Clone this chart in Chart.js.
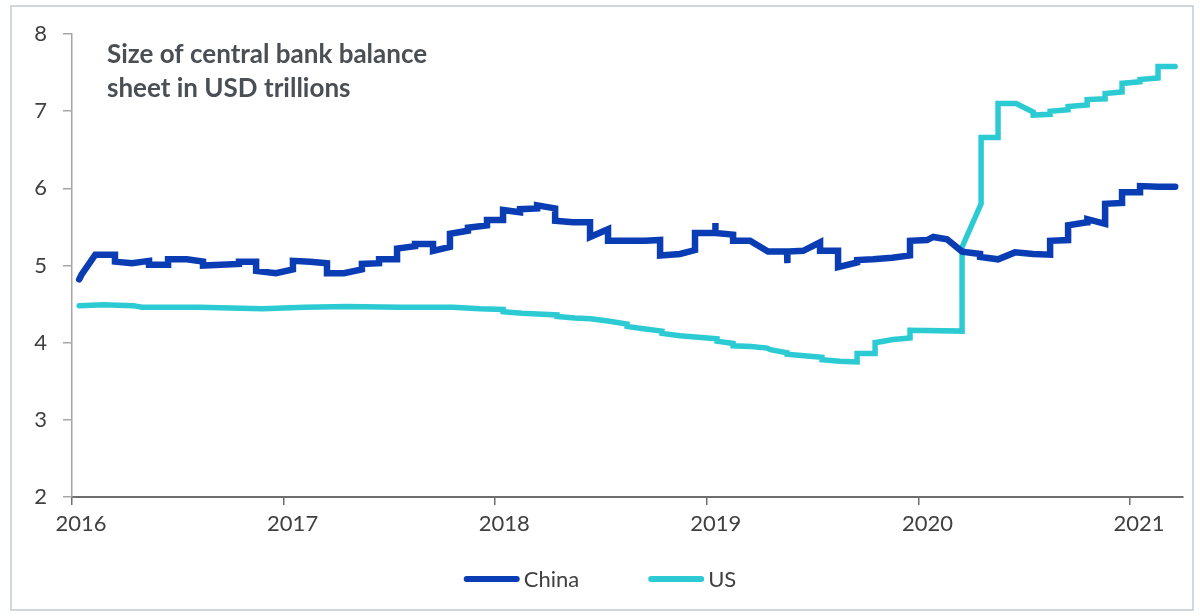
<!DOCTYPE html>
<html>
<head>
<meta charset="utf-8">
<script src="https://cdn.jsdelivr.net/npm/chart.js@4"></script>
<style>
  html, body { margin: 0; padding: 0; background: #ffffff; }
  #wrap { width: 1200px; height: 616px; position: relative; }
</style>
</head>
<body>
<div id="wrap"><canvas id="c" width="1200" height="616"></canvas></div>
<script>
// ---- Data (decimal years / USD trillions) ----
const seriesNames = ['China', 'US'];
const titleLines = ['Size of central bank balance', 'sheet in USD trillions'];
const yearTicks = [2016, 2017, 2018, 2019, 2020, 2021];

const chinaX = [2016.034, 2016.045, 2016.110, 2016.203, 2016.203, 2016.284, 2016.364, 2016.364, 2016.454, 2016.454,
  2016.543, 2016.619, 2016.619, 2016.789, 2016.789, 2016.870, 2016.870, 2016.964, 2017.044, 2017.044,
  2017.125, 2017.205, 2017.205, 2017.285, 2017.370, 2017.370, 2017.451, 2017.451, 2017.536, 2017.536,
  2017.621, 2017.621, 2017.706, 2017.706, 2017.786, 2017.786, 2017.871, 2017.871, 2017.961, 2017.961,
  2018.037, 2018.037, 2018.117, 2018.117, 2018.198, 2018.198, 2018.283, 2018.283, 2018.368, 2018.448,
  2018.448, 2018.533, 2018.533, 2018.708, 2018.779, 2018.779, 2018.873, 2018.944, 2018.944, 2019.039,
  2019.040, 2019.041, 2019.124, 2019.124, 2019.204, 2019.289, 2019.379, 2019.380, 2019.381, 2019.455,
  2019.535, 2019.535, 2019.620, 2019.620, 2019.710, 2019.710, 2019.785, 2019.875, 2019.960, 2019.960,
  2020.041, 2020.070, 2020.135, 2020.206, 2020.291, 2020.291, 2020.376, 2020.456, 2020.542, 2020.622,
  2020.622, 2020.707, 2020.707, 2020.797, 2020.798, 2020.882, 2020.882, 2020.962, 2020.962, 2021.047,
  2021.047, 2021.132, 2021.213];
const chinaY = [4.82, 4.88, 5.14, 5.14, 5.05, 5.03, 5.06, 5.01, 5.01, 5.08,
  5.08, 5.05, 5.00, 5.02, 5.05, 5.05, 4.93, 4.90, 4.95, 5.06,
  5.05, 5.03, 4.90, 4.90, 4.95, 5.02, 5.03, 5.08, 5.08, 5.22,
  5.25, 5.28, 5.28, 5.19, 5.24, 5.41, 5.45, 5.49, 5.52, 5.59,
  5.59, 5.72, 5.69, 5.73, 5.74, 5.78, 5.74, 5.58, 5.56, 5.56,
  5.37, 5.47, 5.32, 5.32, 5.33, 5.13, 5.15, 5.20, 5.42, 5.42,
  5.55, 5.42, 5.40, 5.32, 5.32, 5.18, 5.18, 5.03, 5.18, 5.19,
  5.30, 5.19, 5.19, 4.98, 5.04, 5.07, 5.08, 5.10, 5.13, 5.32,
  5.33, 5.37, 5.34, 5.18, 5.15, 5.11, 5.08, 5.17, 5.15, 5.14,
  5.32, 5.33, 5.52, 5.56, 5.60, 5.54, 5.80, 5.81, 5.95, 5.95,
  6.03, 6.02, 6.02];

const usX = [2016.034, 2016.150, 2016.290, 2016.330, 2016.600, 2016.900, 2017.100, 2017.300, 2017.550, 2017.800,
  2017.928, 2018.037, 2018.037, 2018.127, 2018.200, 2018.292, 2018.292, 2018.377, 2018.450, 2018.533,
  2018.623, 2018.623, 2018.700, 2018.788, 2018.788, 2018.873, 2018.960, 2019.048, 2019.048, 2019.124,
  2019.124, 2019.210, 2019.285, 2019.300, 2019.379, 2019.379, 2019.460, 2019.544, 2019.544, 2019.629,
  2019.710, 2019.710, 2019.795, 2019.795, 2019.880, 2019.960, 2019.960, 2020.206, 2020.206, 2020.296,
  2020.296, 2020.376, 2020.376, 2020.461, 2020.542, 2020.542, 2020.622, 2020.622, 2020.707, 2020.707,
  2020.797, 2020.797, 2020.882, 2020.882, 2020.962, 2020.962, 2021.047, 2021.047, 2021.132, 2021.132,
  2021.213];
const usY = [4.48, 4.49, 4.48, 4.46, 4.46, 4.44, 4.46, 4.47, 4.46, 4.46,
  4.44, 4.43, 4.40, 4.38, 4.37, 4.36, 4.34, 4.32, 4.31, 4.28,
  4.24, 4.21, 4.18, 4.15, 4.12, 4.09, 4.07, 4.05, 4.02, 3.99,
  3.96, 3.95, 3.93, 3.91, 3.87, 3.85, 3.83, 3.81, 3.78, 3.76,
  3.75, 3.86, 3.86, 4.00, 4.04, 4.06, 4.16, 4.15, 5.24, 5.80,
  6.66, 6.66, 7.10, 7.10, 6.99, 6.95, 6.96, 7.00, 7.02, 7.06,
  7.08, 7.15, 7.16, 7.23, 7.25, 7.36, 7.38, 7.41, 7.43, 7.58,
  7.58];

const colors = ['#0a3db4', '#2ccbd4'];
const FONT = 'Lato, "Open Sans", sans-serif';

const toPoints = (xs, ys) => xs.map((x, i) => ({ x: x, y: ys[i] }));

const framePlugin = {
  id: 'frame',
  beforeDraw(chart) {
    const ctx = chart.ctx;
    ctx.save();
    ctx.fillStyle = '#ffffff';
    ctx.fillRect(0, 0, chart.width, chart.height);
    ctx.strokeStyle = '#c3cad2';
    ctx.lineWidth = 1.5;
    ctx.strokeRect(11, 6, 1182, 604);
    ctx.restore();
  },
  afterDraw(chart) {
    const ctx = chart.ctx;
    ctx.save();
    // title inside the plot
    ctx.fillStyle = '#4a4f55';
    ctx.font = 'bold 26px ' + FONT;
    ctx.textBaseline = 'alphabetic';
    ctx.textAlign = 'left';
    titleLines.forEach((t, i) => ctx.fillText(t, 107, 63 + i * 34));
    // legend
    ctx.font = '22px ' + FONT;
    ctx.textBaseline = 'middle';
    const sw = 56, gapText = 4, gapItem = 69;
    const items = chart.data.datasets.map(d => ({ label: d.label, color: d.borderColor, w: ctx.measureText(d.label).width }));
    let total = 0;
    items.forEach((it, i) => { total += sw + gapText + it.w + (i < items.length - 1 ? gapItem : 0); });
    let x = 600 - total / 2;
    const y = 579;
    items.forEach(it => {
      ctx.strokeStyle = it.color;
      ctx.lineWidth = 6;
      ctx.lineCap = 'round';
      ctx.beginPath();
      ctx.moveTo(x + 3, y);
      ctx.lineTo(x + sw - 3, y);
      ctx.stroke();
      ctx.fillStyle = '#404040';
      ctx.fillText(it.label, x + sw + gapText, y + 1);
      x += sw + gapText + it.w + gapItem;
    });
    ctx.restore();
  }
};

new Chart(document.getElementById('c'), {
  type: 'line',
  data: {
    datasets: [
      { label: seriesNames[0], data: toPoints(chinaX, chinaY), borderColor: colors[0], backgroundColor: colors[0], borderWidth: 6.5 },
      { label: seriesNames[1], data: toPoints(usX, usY), borderColor: colors[1], backgroundColor: colors[1], borderWidth: 5.5 }
    ]
  },
  options: {
    responsive: false,
    animation: false,
    devicePixelRatio: 1,
    layout: { padding: { left: 0, right: 17, top: 34, bottom: 69 } },
    elements: { point: { radius: 0 }, line: { tension: 0, borderJoinStyle: 'miter', borderCapStyle: 'round' } },
    plugins: { legend: { display: false }, title: { display: false }, tooltip: { enabled: false } },
    scales: {
      x: {
        type: 'linear',
        min: 2016, max: 2021.25,
        afterBuildTicks: s => { s.ticks = yearTicks.map(v => ({ value: v })); },
        afterFit: s => { s.height = 50; },
        border: { display: true, color: '#6e6e6e', width: 2 },
        grid: { display: true, drawOnChartArea: false, drawTicks: true, tickLength: 8, color: '#6e6e6e', lineWidth: 1.5 },
        ticks: { color: '#404040', font: { family: FONT, size: 22 }, padding: 6, labelOffset: 9, maxRotation: 0, autoSkip: false, callback: v => String(v) }
      },
      y: {
        min: 2, max: 8,
        afterFit: s => { s.width = 72; },
        border: { display: true, color: '#a6a6a6', width: 1.5 },
        grid: { display: true, drawOnChartArea: false, drawTicks: true, tickLength: 9, color: '#a6a6a6', lineWidth: 1.5 },
        ticks: { stepSize: 1, color: '#404040', font: { family: FONT, size: 22 }, padding: 16 }
      }
    }
  },
  plugins: [framePlugin]
});
</script>
</body>
</html>
